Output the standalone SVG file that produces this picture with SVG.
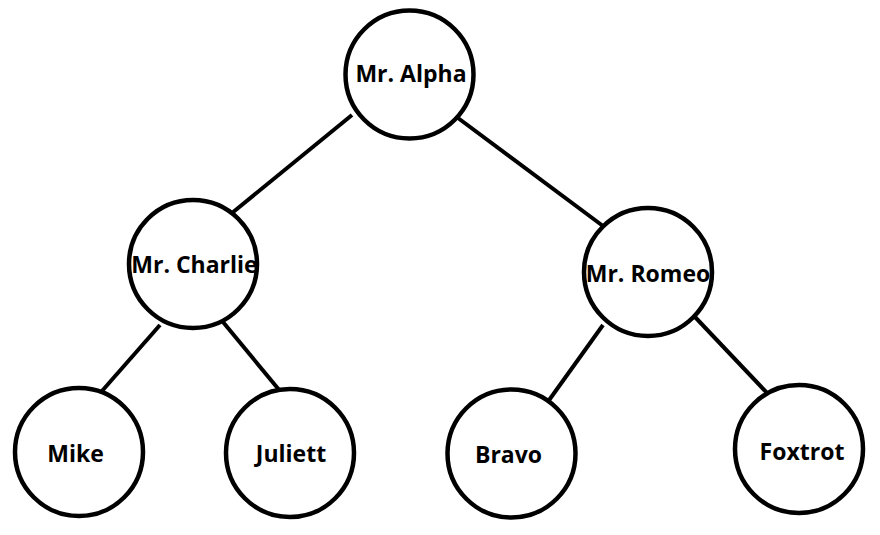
<svg xmlns="http://www.w3.org/2000/svg" width="880" height="535" viewBox="0 0 880 535">
<style>
.n circle{fill:#fff;stroke:#000;stroke-width:4.5}
.n text{font-family:"Open Sans","Noto Sans","Liberation Sans",sans-serif;font-weight:bold;font-size:23px;fill:#000;text-anchor:middle}
.e line{stroke:#000;stroke-width:4}
</style>
<rect width="880" height="535" fill="#fff"/>
<g id="connectors" class="e">
<line x1="352" y1="115" x2="232" y2="213"/>
<line x1="458" y1="118" x2="603" y2="226"/>
<line x1="160" y1="325" x2="102" y2="391"/>
<line x1="223" y1="322" x2="280" y2="391"/>
<line x1="603" y1="325" x2="547" y2="403"/>
<line x1="695" y1="317" x2="768" y2="394"/>
</g>
<g id="alpha" class="n"><circle cx="409.5" cy="74.5" r="64"/><text x="411" y="82">Mr. Alpha</text></g>
<g id="charlie" class="n"><circle cx="193" cy="264" r="64"/><text x="194.5" y="273">Mr. Charlie</text></g>
<g id="romeo" class="n"><circle cx="648" cy="272" r="64"/><text x="648" y="282">Mr. Romeo</text></g>
<g id="mike" class="n"><circle cx="79" cy="452" r="64"/><text x="75.5" y="462">Mike</text></g>
<g id="juliett" class="n"><circle cx="290" cy="453" r="64"/><text x="291" y="462">Juliett</text></g>
<g id="bravo" class="n"><circle cx="511.5" cy="453.5" r="64"/><text x="508.5" y="463">Bravo</text></g>
<g id="foxtrot" class="n"><circle cx="799" cy="449" r="64"/><text x="802" y="460">Foxtrot</text></g>
</svg>
